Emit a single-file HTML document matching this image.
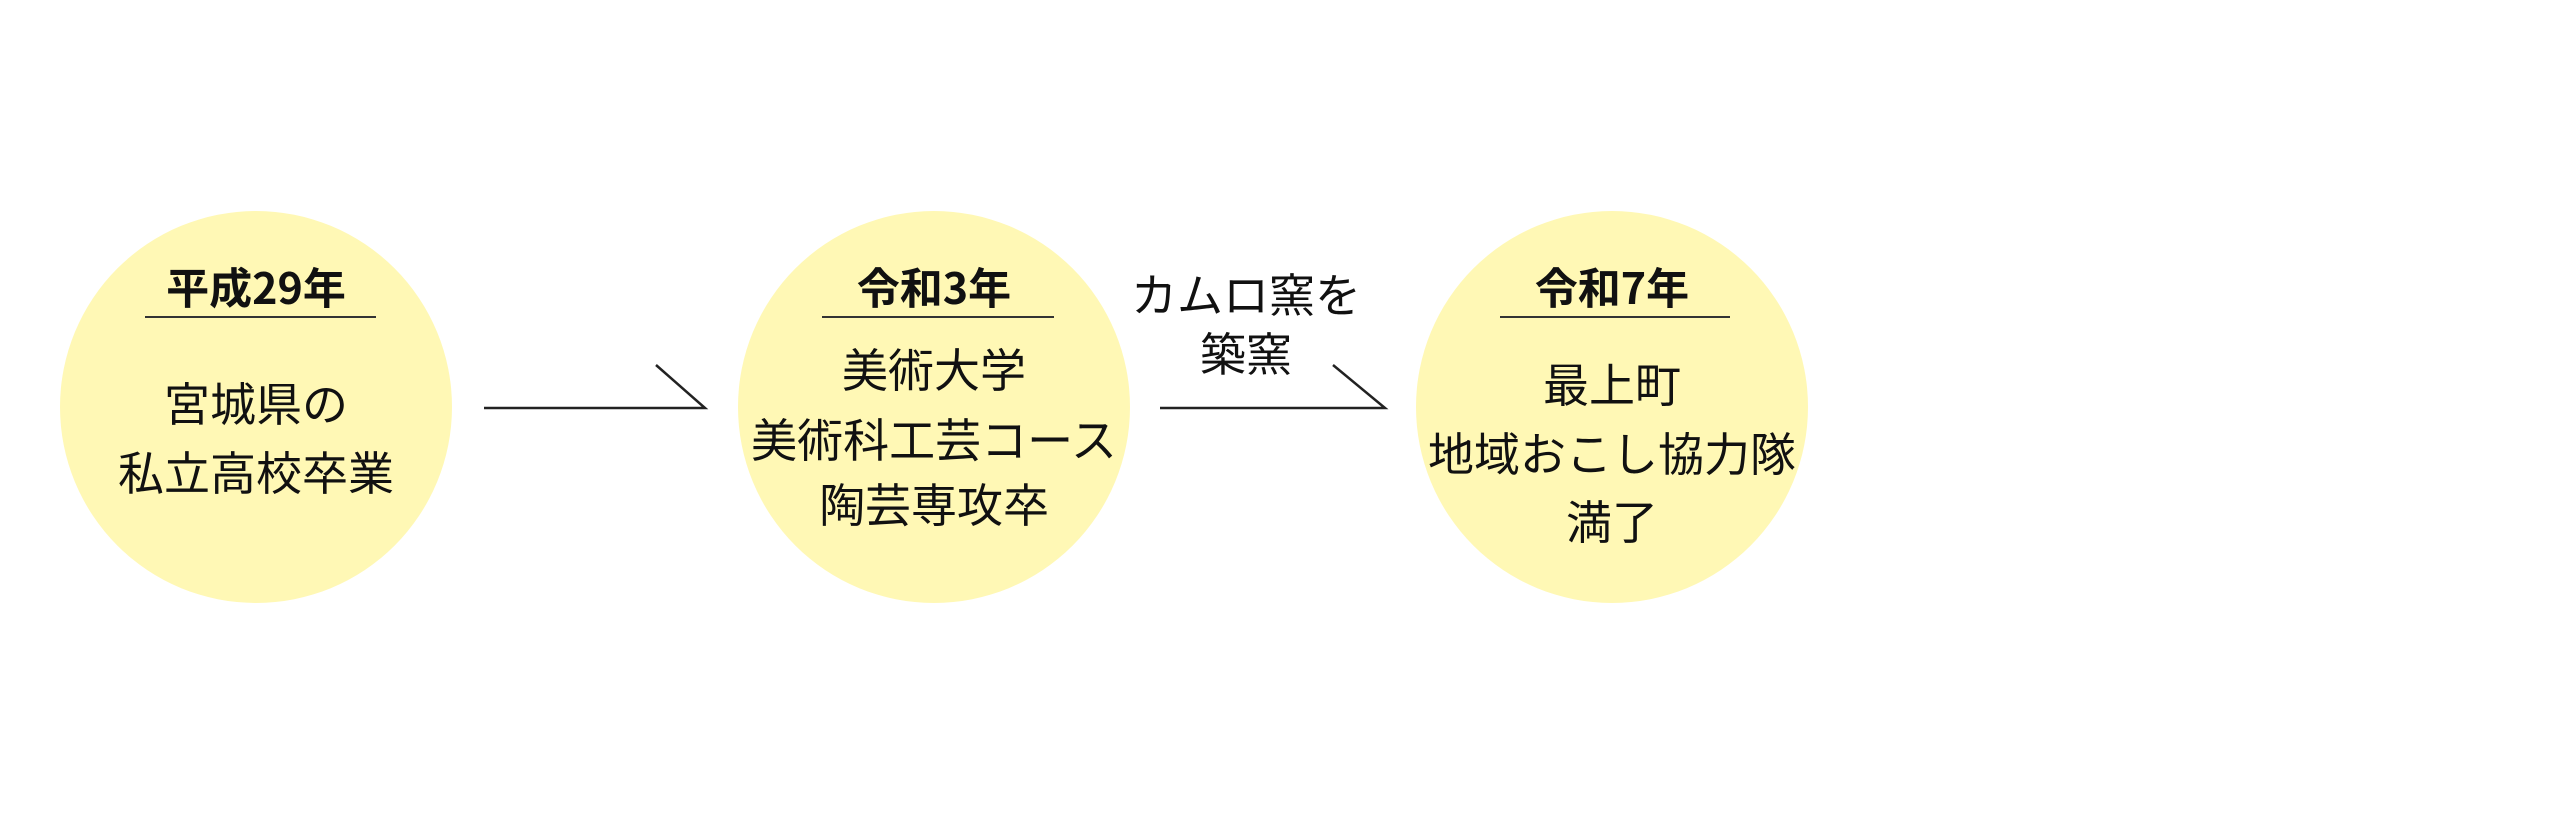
<!DOCTYPE html>
<html><head><meta charset="utf-8"><style>
html,body{margin:0;padding:0;background:#fff;}
body{width:2560px;height:817px;position:relative;overflow:hidden;font-family:"Noto Sans CJK JP","Liberation Sans",sans-serif;color:#111;}
.c{position:absolute;width:392px;height:392px;border-radius:50%;background:#fff8b5;top:211px;}
.t{position:absolute;width:0;white-space:nowrap;}
.t span{position:absolute;transform:translateX(-50%);}
.h{font-weight:bold;font-size:43px;line-height:44px;}
.b{font-size:46px;line-height:50px;}
.u{position:absolute;height:2px;background:#333;top:316px;}
</style></head><body>
<div class="c" style="left:60px"></div>
<div class="c" style="left:738px"></div>
<div class="c" style="left:1416px"></div>

<div class="t h" style="left:256px;top:264px"><span>平成29年</span></div>
<div class="u" style="left:145px;width:231px"></div>
<div class="t b" style="left:256px;top:377px"><span>宮城県の</span></div>
<div class="t b" style="left:256px;top:446px"><span>私立高校卒業</span></div>

<div class="t h" style="left:934px;top:264px"><span>令和3年</span></div>
<div class="u" style="left:822px;width:232px"></div>
<div class="t b" style="left:934px;top:343px"><span>美術大学</span></div>
<div class="t b" style="left:934px;top:413px"><span>美術科工芸コース</span></div>
<div class="t b" style="left:934px;top:478px"><span>陶芸専攻卒</span></div>

<div class="t h" style="left:1612px;top:264px"><span>令和7年</span></div>
<div class="u" style="left:1500px;width:230px"></div>
<div class="t b" style="left:1612px;top:358px"><span>最上町</span></div>
<div class="t b" style="left:1612px;top:427px"><span>地域おこし協力隊</span></div>
<div class="t b" style="left:1612px;top:495px"><span>満了</span></div>

<div class="t b" style="left:1246px;top:268px"><span>カムロ窯を</span></div>
<div class="t b" style="left:1246px;top:327px"><span>築窯</span></div>

<svg width="2560" height="817" style="position:absolute;left:0;top:0">
<polyline points="484,408 705,408 656,365" fill="none" stroke="#222" stroke-width="2.5"/>
<polyline points="1160,408 1385,408 1333,365" fill="none" stroke="#222" stroke-width="2.5"/>
</svg>
</body></html>
